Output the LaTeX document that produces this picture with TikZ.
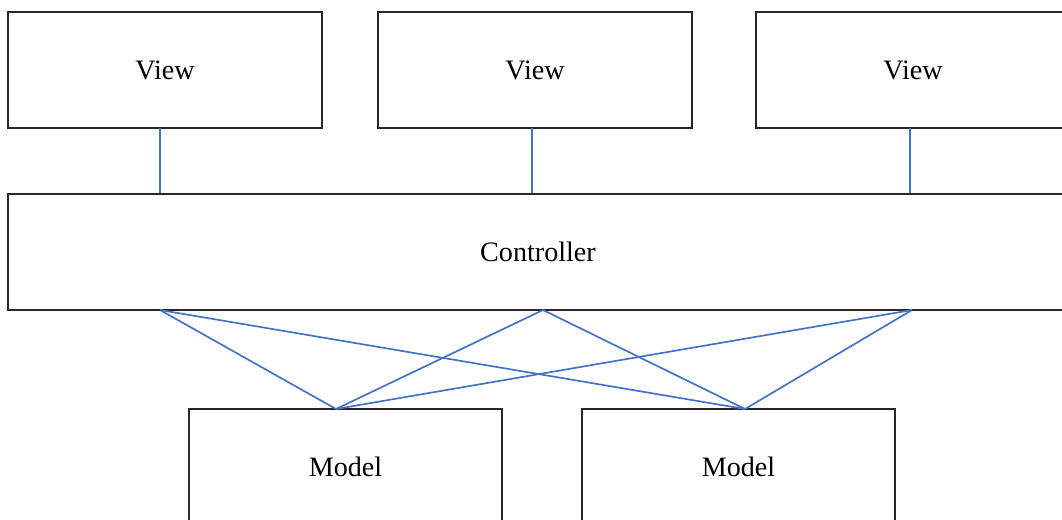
\documentclass[tikz,border=0pt]{standalone}
\usepackage{fontspec}
\setmainfont{Liberation Serif}
\usetikzlibrary{positioning}
\definecolor{linkblue}{RGB}{68,114,196}
\definecolor{boxgray}{RGB}{40,40,40}

\begin{document}
\begin{tikzpicture}[
        x=0.025cm, y=-0.025cm,
        box/.style={draw=boxgray, line width=1.4pt, minimum width=7.85cm,
          minimum height=2.9cm, inner sep=0pt,
          font=\fontsize{20}{24}\selectfont},
        link/.style={draw=linkblue, line width=1.2pt}
      ]
      \useasboundingbox (0,0) rectangle (1062,519);
      \clip (0,0) rectangle (1062,519);
      % views on top
      \node[box] (v1) at (165,70) {View};
      \node[box] (v2) at (535,70) {View};
      \node[box] (v3) at (913,70) {View};
      % controller
      \node[box, minimum width=26.5cm] (ctrl) at (538,252) {Controller};
      % models, cut by the lower edge
      \node[box, minimum width=7.825cm] (m1) at (345.5,467) {Model};
      \node[box, minimum width=7.825cm] (m2) at (738.5,467) {Model};
      % anchor points on the edges
      \coordinate (t1) at (160,128);
      \coordinate (t2) at (532,128);
      \coordinate (t3) at (910,128);
      \coordinate (c1) at (160,310);
      \coordinate (c2) at (543,310);
      \coordinate (c3) at (912,310);
      \coordinate (p1) at (336,409);
      \coordinate (p2) at (745,409);
      \foreach \t in {t1,t2,t3}
        \draw[link] (\t) -- (\t |- ctrl.north);
      \foreach \c in {c1,c2,c3}
        \foreach \p in {p1,p2}
          \draw[link] (\c) -- (\p);
    \end{tikzpicture}
\end{document}
